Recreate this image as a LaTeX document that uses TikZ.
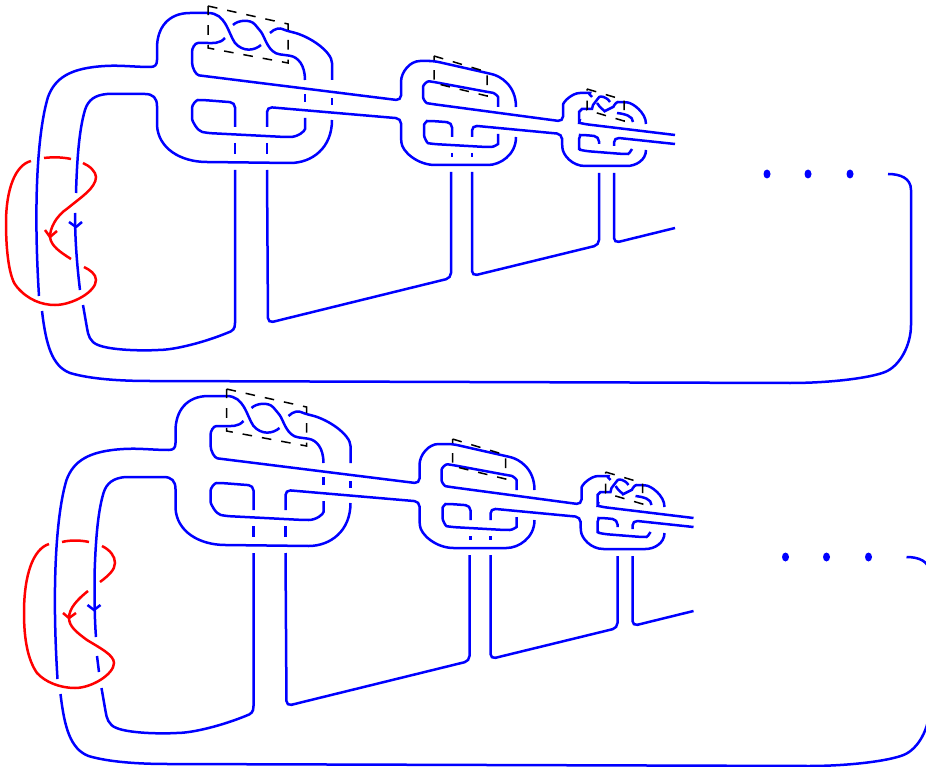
\documentclass[tikz,border=0pt]{standalone}
\usepackage{tikz}
\definecolor{linkblue}{RGB}{0,0,255}
\definecolor{linkred}{RGB}{255,0,0}

\newcommand{\linkbody}{%
  % outer strand
  \draw[strand,sharp corners] (261,45) .. controls (254,51) and (243,52) .. (235,43) .. controls (228,33) and (226,13) .. (208,13) -- (190,13)
    .. controls (168,13) and (157,28) .. (157,48) -- (157,60) .. controls (157,65) and (155,67) .. (150,67)
    .. controls (135,67) and (120,65) .. (105,66) .. controls (70,68) and (55,78) .. (48,97) .. controls (38,130) and (33,200) .. (39,296);
  \draw[strand,sharp corners] (42,311) .. controls (46,345) and (52,366) .. (70,373) .. controls (90,379) and (120,381) .. (150,381) -- (790,383)
    .. controls (830,383) and (870,378) .. (885,372) .. controls (900,366) and (911,345) .. (911,325) -- (911,190)
    .. controls (911,178) and (900,174) .. (888,174);
  % first clasp
  \draw[strand] (233,25) .. controls (238,20) and (250,19) .. (258,28) .. controls (265,37) and (268,53) .. (285,55) .. controls (298,57) and (305,65) .. (305,80);
  \draw[strand] (305,94) -- (305,102);
  \draw[strand] (225,38) .. controls (220,44) and (212,43) .. (203,43) .. controls (195,43) and (192,48) .. (192,57) .. controls (192,68) and (196,75) .. (204,76)
    -- (401,100.5) -- (401,87) .. controls (401,72) and (410,61) .. (425,61) -- (434,61) -- (487,73) .. controls (500,76) and (516,85) .. (516,107);
  \draw[strand] (305,118) -- (305,124) .. controls (305,131) and (298,137) .. (285,137) -- (207,133) .. controls (198,131) and (192,122) .. (192,113)
    .. controls (192,105) and (196,100) .. (203,100) -- (235,102.5) -- (235,127);
  \draw[strand] (235,143) -- (235,154);
  \draw[strand,sharp corners] (235,170) -- (235,323) .. controls (235,329) and (233,331) .. (227,333) .. controls (205,342) and (175,350) .. (158,350)
    .. controls (140,351) and (110,350) .. (98,345) .. controls (90,342) and (88,335) .. (87,328) -- (83,305);
  \draw[strand,sharp corners] (76,193) .. controls (77,160) and (79,130) .. (85,110) .. controls (88,100) and (95,95) .. (107,94) -- (145,94) .. controls (153,94) and (157,98) .. (157,106)
    -- (157,125) .. controls (158,148) and (180,162) .. (207,162) -- (290,163) .. controls (312,163) and (332,148) .. (332,120);
  \draw[strand] (332,98) -- (332,105);
  \draw[strand] (332,80) -- (332,68) .. controls (332,52) and (310,36) .. (287,31) .. controls (280,28) and (275,28) .. (270,33);
  \draw[strand] (267,127) -- (267,107) -- (401,118.5) -- (401,137) .. controls (402,152) and (418,165) .. (440,165) -- (483,165) .. controls (500,165) and (516,155) .. (516,137);
  \draw[strand] (267,143) -- (267,154);
  \draw[strand] (267,170) -- (268,323) -- (451,278) -- (451,172);
  % second clasp
  \draw[strand] (498,105) -- (498,102) .. controls (498,96) and (494,93) .. (488,92) -- (434,82) .. controls (427,81) and (423,85) .. (423,92) .. controls (423,99) and (426,103) .. (432,104)
    -- (563,121.5) -- (563,110) .. controls (563,102) and (572,93) .. (585,93) .. controls (588,93) and (590,95) .. (592,97);
  \draw[strand] (498,136) -- (498,139) .. controls (498,144) and (494,147) .. (486,147) -- (433,144) .. controls (427,143) and (424,137) .. (424,130) .. controls (424,124) and (427,121) .. (432,121)
    -- (452,122.5) -- (452,137);
  \draw[strand] (452,153) -- (452,157);
  \draw[strand] (472,153) -- (472,157);
  \draw[strand] (472,137) -- (472,125.5) -- (562,134) -- (562,143) .. controls (563,155) and (572,166) .. (590,166) -- (622,166) .. controls (636,166) and (646,160) .. (646,150);
  \draw[strand] (472,172) -- (472,276) -- (599,245) -- (599,173);
  % third clasp
  \draw[strand] (675,135) -- (584,124) .. controls (580,123) and (579,120) .. (579,117) .. controls (579,112) and (582,109) .. (587,109) .. controls (592,109) and (593,105) .. (596,101) .. controls (600,96) and (606,96) .. (610,102);
  \draw[strand] (597,103) .. controls (600,108) and (605,111) .. (609,109) .. controls (613,107) and (616,102) .. (623,102) .. controls (632,103) and (646,112) .. (646,124);
  \draw[strand] (617,113) .. controls (625,114) and (633,116) .. (633,122);
  \draw[strand] (632,149) .. controls (631,152) and (628,154) .. (623,154) -- (585,151) .. controls (581,150) and (579,148) .. (579,144) .. controls (579,138) and (581,135) .. (585,135) -- (599,136.5) -- (599,144);
  \draw[strand] (614,146) -- (614,137.5) -- (675,144);
  \draw[strand] (614,173) -- (614,243) -- (675,228);
  % twist regions
  \draw[boxdash] (208,6) -- (288,24) -- (288,63) -- (208,48) -- cycle;
  \draw[boxdash] (434,56) -- (487,72) -- (487,96) -- (434,83) -- cycle;
  \draw[boxdash] (587,89) -- (624,100) -- (624,121) -- (587,110) -- cycle;
  \foreach \dotx in {767,808,850}
    \fill[linkblue] (\dotx,174) ellipse [x radius=3.5pt,y radius=4.5pt];
}

\begin{document}
\begin{tikzpicture}[
  x=1pt,y=-1pt,
  strand/.style={draw=linkblue,line width=2.5pt,rounded corners=5pt},
  redstrand/.style={draw=linkred,line width=2.5pt},
  boxdash/.style={draw=black,line width=1.5pt,dash pattern=on 9.6pt off 10pt}
]
\useasboundingbox (0,0) rectangle (926,767);

% upper link
\linkbody
\draw[strand] (75,213) .. controls (75,240) and (77,265) .. (80,290);
\draw[strand,sharp corners] (69,222) -- (76,227) -- (82,222);
\draw[redstrand] (31,161) .. controls (15,165) and (6,190) .. (6,223) .. controls (6,255) and (10,280) .. (17,287) .. controls (28,300) and (42,305) .. (55,305)
  .. controls (72,305) and (96,292) .. (96,280) .. controls (96,274) and (90,270) .. (84,267);
\draw[redstrand] (44,158) .. controls (52,157) and (62,157) .. (71,159);
\draw[redstrand] (83,163) .. controls (90,166) and (96,172) .. (96,177) .. controls (96,188) and (80,198) .. (68,208) .. controls (56,216) and (50,228) .. (50,237) .. controls (51,246) and (60,252) .. (71,259);
\draw[redstrand] (45,230) -- (50,237) -- (57,231);

% lower link
\begin{scope}[shift={(18.5,383)}]
  \linkbody
  \draw[strand] (76,193) .. controls (76,215) and (76,235) .. (77.5,254);
  \draw[strand] (78.5,273) -- (80.5,289);
  \draw[strand,sharp corners] (69,222) -- (75.5,227) -- (82,222);
\end{scope}
\draw[redstrand] (49,544) .. controls (33,549) and (24,575) .. (24,613) .. controls (24,640) and (28,660) .. (37,673) .. controls (45,682) and (60,688) .. (75,688)
  .. controls (92,688) and (114,674) .. (114,663) .. controls (114,655) and (100,648) .. (87,640) .. controls (76,632) and (69,626) .. (69,618) .. controls (69,608) and (78,599) .. (88,591);
\draw[redstrand] (62,542) .. controls (70,540) and (80,540) .. (89,542);
\draw[redstrand] (102,546) .. controls (110,550) and (115,556) .. (115,563) .. controls (115,570) and (108,576) .. (100,582);
\draw[redstrand] (63,613) -- (69,618) -- (76,613);
\end{tikzpicture}
\end{document}
